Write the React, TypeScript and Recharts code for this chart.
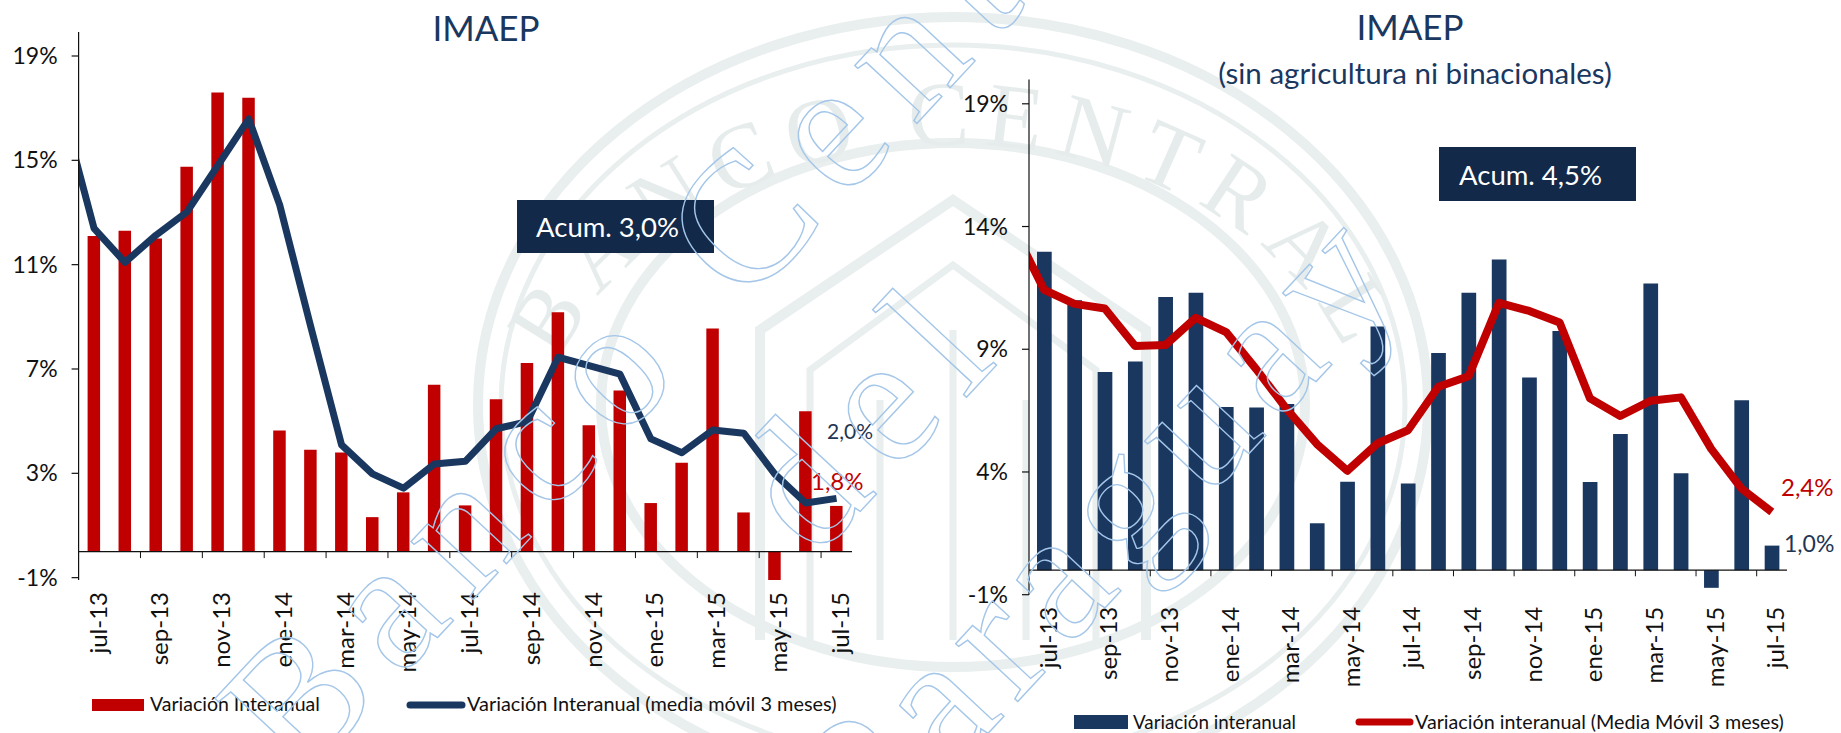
import { Bar, ComposedChart, Line, ReferenceLine, XAxis, YAxis } from "recharts";

const FONT = "Lato, 'Noto Sans', sans-serif";
const NAVY = "#1a3760";
const RED = "#c00000";

// jun-13 only feeds the moving average, it falls just outside the plot
const months = [
  "jun-13", "jul-13", "ago-13", "sep-13", "oct-13", "nov-13", "dic-13", "ene-14", "feb-14", "mar-14", "abr-14", "may-14", "jun-14",
  "jul-14", "ago-14", "sep-14", "oct-14", "nov-14", "dic-14", "ene-15", "feb-15", "mar-15", "abr-15", "may-15", "jun-15", "jul-15",
];
const tickIndexes = [1, 3, 5, 7, 9, 11, 13, 15, 17, 19, 21, 23, 25];
const boundaryTicks = [2.5, 4.5, 6.5, 8.5, 10.5, 12.5, 14.5, 16.5, 18.5, 20.5, 22.5, 24.5];

const leftBars = [
  12.1, 12.3, 12.0, 14.75, 17.6, 17.4, 4.64, 3.9, 3.8, 1.32, 2.27, 6.4, 1.77, 5.84, 7.23, 9.18, 4.84, 6.18, 1.86, 3.41, 8.55, 1.5, -1.09, 5.38, 1.75,
];
const leftLine = [
  16.86, 12.39, 11.09, 12.13, 13.02, 14.8, 16.59, 13.29, 8.64, 4.09, 2.98, 2.43, 3.36, 3.46, 4.71, 4.98, 7.45, 7.13, 6.8, 4.32, 3.79, 4.66, 4.54, 2.98, 1.86, 2.04,
];
const rightBars = [
  12.97, 11.0, 8.07, 8.5, 11.13, 11.3, 6.65, 6.63, 6.77, 1.91, 3.6, 9.93, 3.53, 8.85, 11.3, 12.66, 7.85, 9.74, 3.59, 5.55, 11.68, 3.95, -0.72, 6.92, 1.0,
];
const rightLine = [
  13.9, 11.42, 10.85, 10.66, 9.13, 9.17, 10.28, 9.7, 8.18, 6.56, 5.13, 4.05, 5.17, 5.7, 7.47, 7.9, 10.89, 10.56, 10.09, 7.0, 6.28, 6.9, 7.04, 4.94, 3.32, 2.37,
];
const leftTicks = [-1, 3, 7, 11, 15, 19];
const rightTicks = [-1, 4, 9, 14, 19];

const makeRows = (bars: number[], line: number[]) =>
  months.map((m, i) => ({ idx: i, month: m, bar: i === 0 ? null : bars[i - 1], line: line[i] }));

function PanelChart({ left, width, bars, line, ticks, top, bottom, marginLeft, marginRight, yMax, barSize, barColor, lineColor, lineWidth, labelGap }: any) {
  return (
    <div style={{ position: "absolute", left, top: 0 }}>
      <ComposedChart
        width={width}
        height={733}
        data={makeRows(bars, line)}
        margin={{ top, right: marginRight, bottom, left: marginLeft }}
      >
        <XAxis
          dataKey="idx"
          type="number"
          domain={[0.5, 25.5]}
          allowDataOverflow
          ticks={tickIndexes}
          interval={0}
          height={100}
          axisLine={false}
          tickLine={false}
          tick={({ x, y, payload }: any) => (
            <text
              x={x + 3}
              y={y + labelGap}
              transform={`rotate(-90 ${x + 3} ${y + labelGap})`}
              textAnchor="end"
              dominantBaseline="central"
              fontSize={24}
              fontFamily={FONT}
              fill="#111"
            >
              {months[payload.value]}
            </text>
          )}
        />
        <YAxis
          domain={[-1, yMax]}
          ticks={ticks}
          interval={0}
          width={60}
          tickSize={7}
          tickMargin={14}
          tickFormatter={(v: number) => `${v}%`}
          tick={{ fontSize: 23, fontFamily: FONT, fill: "#111" }}
          axisLine={{ stroke: "#111", strokeWidth: 1.2 }}
          tickLine={{ stroke: "#111", strokeWidth: 1.2 }}
        />
        <Bar dataKey="bar" fill={barColor} barSize={barSize} isAnimationActive={false} />
        <ReferenceLine y={0} stroke="#111" strokeWidth={1.2} />
        {boundaryTicks.map((t) => (
          <ReferenceLine
            key={t}
            segment={[
              { x: t, y: 0 },
              { x: t, y: -0.25 },
            ]}
            stroke="#111"
            strokeWidth={1}
          />
        ))}
        <Line
          dataKey="line"
          stroke={lineColor}
          strokeWidth={lineWidth}
          dot={false}
          strokeLinejoin="round"
          isAnimationActive={false}
        />
      </ComposedChart>
    </div>
  );
}

function Seal() {
  const ink = "#e9eeee";
  return (
    <svg width={1841} height={733} style={{ position: "absolute", left: 0, top: 0 }}>
      <defs>
        <path id="sealArc" d="M 535 470 A 420 325 0 0 1 1375 470" />
      </defs>
      <g fill="none" stroke={ink} strokeWidth={10}>
        <ellipse cx={953} cy={405} rx={475} ry={388} />
        <ellipse cx={953} cy={405} rx={452} ry={360} strokeWidth={5} />
        <ellipse cx={953} cy={405} rx={352} ry={262} />
        <path d="M 760 640 V 330 L 953 200 L 1146 330 V 640" />
        <path d="M 810 640 V 370 L 953 265 L 1096 370 V 640" strokeWidth={7} />
        <path d="M 880 640 V 400 M 1026 640 V 400 M 953 640 V 330" strokeWidth={7} />
      </g>
      <text fontSize={92} fontFamily="'Liberation Serif', serif" fill="#e6ecec" letterSpacing={14}>
        <textPath href="#sealArc" startOffset="50%" textAnchor="middle">
          BANCO CENTRAL
        </textPath>
      </text>
    </svg>
  );
}

function Stamp() {
  const outline = { fill: "none", stroke: "#a4c6e8", strokeWidth: 1.4, fontFamily: "'Liberation Serif', serif", fontSize: 185 };
  return (
    <svg width={1841} height={733} style={{ position: "absolute", left: 0, top: 0, pointerEvents: "none" }}>
      <text {...outline} letterSpacing={22} transform="translate(300 785) rotate(-47)">
        Banco Central
      </text>
      <text {...outline} letterSpacing={22} transform="translate(815 560) rotate(-47)">
        del
      </text>
      <text {...outline} letterSpacing={14} transform="translate(870 860) rotate(-47)">
        Paraguay
      </text>
    </svg>
  );
}

const label = (text: string, x: number, y: number, size: number, color: string, anchor = "start") => (
  <text x={x} y={y} fontSize={size} fill={color} textAnchor={anchor as any} fontFamily={FONT}>
    {text}
  </text>
);

function Annotations() {
  return (
    <svg width={1841} height={733} style={{ position: "absolute", left: 0, top: 0 }}>
      {label("IMAEP", 486, 41, 35, NAVY, "middle")}
      {label("IMAEP", 1410, 40, 35, NAVY, "middle")}
      {label("(sin agricultura ni binacionales)", 1415, 84, 29.5, NAVY, "middle")}

      <rect x={517} y={200} width={197} height={53} fill="#12294a" />
      {label("Acum. 3,0%", 536, 237, 27.5, "#fff")}
      <rect x={1439} y={147} width={197} height={54} fill="#12294a" />
      {label("Acum. 4,5%", 1459, 185, 27.5, "#fff")}

      {label("2,0%", 827, 439, 21, "#1f3552")}
      {label("1,8%", 811, 490, 24, RED)}
      {label("2,4%", 1781, 496, 24, RED)}
      {label("1,0%", 1784, 552, 23, "#1f3552")}

      <rect x={92} y={699} width={52} height={12} fill={RED} />
      {label("Variación Interanual", 150, 711, 19.5, "#111")}
      <line x1={410} x2={462} y1={705} y2={705} stroke={NAVY} strokeWidth={7} strokeLinecap="round" />
      {label("Variación Interanual (media móvil 3 meses)", 467, 711, 19.9, "#111")}

      <rect x={1074} y={715} width={54} height={14} fill={NAVY} />
      {label("Variación interanual", 1133, 729, 18.8, "#111")}
      <line x1={1359} x2={1410} y1={722} y2={722} stroke={RED} strokeWidth={7} strokeLinecap="round" />
      {label("Variación interanual (Media Móvil 3 meses)", 1415, 729, 19.7, "#111")}
    </svg>
  );
}

export default function App() {
  return (
    <div style={{ position: "absolute", left: 0, top: 0, width: 1841, height: 733, overflow: "hidden", background: "#fff" }}>
      <Seal />
      <PanelChart
        left={0}
        width={920}
        bars={leftBars}
        line={leftLine}
        ticks={leftTicks}
        top={32}
        bottom={53}
        marginLeft={18.6}
        marginRight={68}
        yMax={19.92}
        barSize={12.5}
        barColor={RED}
        lineColor={NAVY}
        lineWidth={7}
        labelGap={4}
      />
      <PanelChart
        left={920}
        width={921}
        bars={rightBars}
        line={rightLine}
        ticks={rightTicks}
        top={79.5}
        bottom={38.3}
        marginLeft={49}
        marginRight={54}
        yMax={19.99}
        barSize={14.7}
        barColor={NAVY}
        lineColor={RED}
        lineWidth={8}
        labelGap={4}
      />
      <Annotations />
      <Stamp />
    </div>
  );
}
